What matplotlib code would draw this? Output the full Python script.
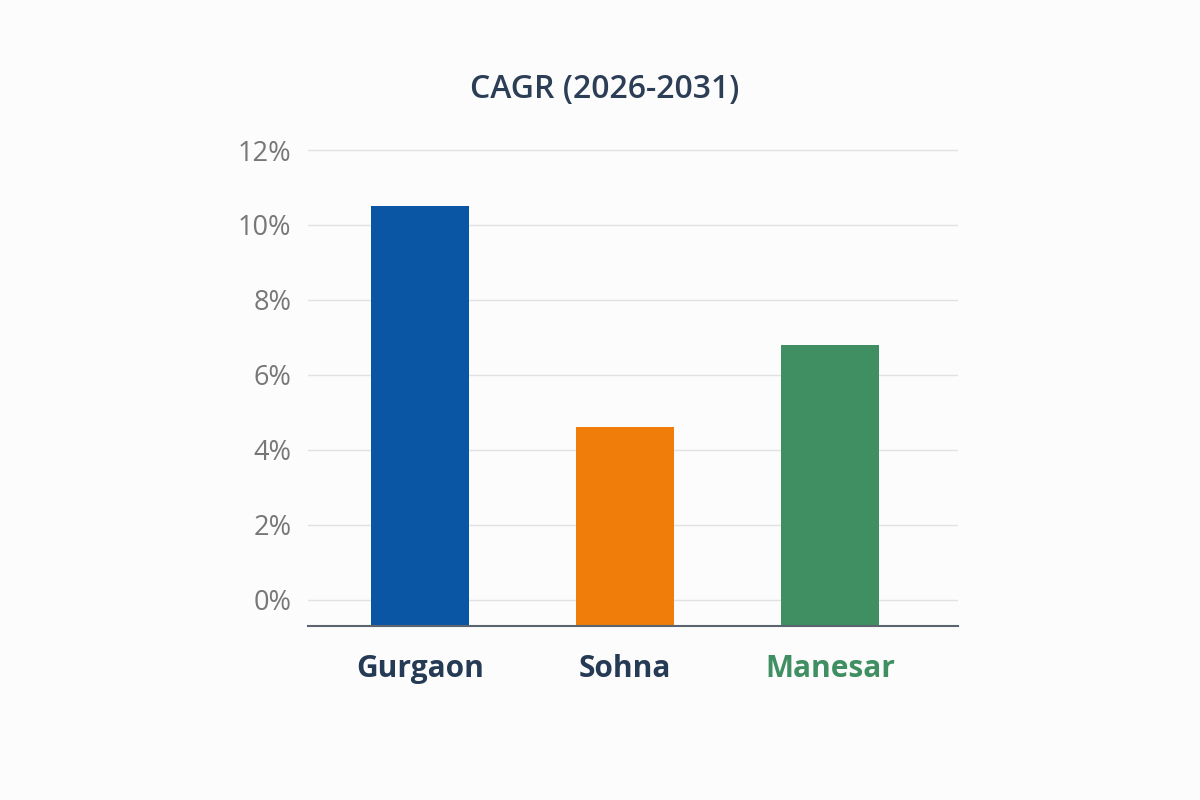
import matplotlib
matplotlib.use("Agg")
import matplotlib.pyplot as plt
import numpy as np

categories = ["Gurgaon", "Sohna", "Manesar"]
cagr = [10.5, 4.6, 6.8]
bar_colors = ["#0b56a4", "#f07c0a", "#3f8f62"]
label_colors = ["#253a55", "#253a55", "#3f8f62"]
yticks = [0, 2, 4, 6, 8, 10, 12]
ytick_labels = ["0%", "2%", "4%", "6%", "8%", "10%", "12%"]
title = "CAGR (2026-2031)"

plt.rcParams['font.family'] = ['Open Sans', 'DejaVu Sans']

bg = "#fcfcfc"
fig = plt.figure(figsize=(12, 8), dpi=100, facecolor=bg)
ax = fig.add_axes([0.2567, 0.2175, 0.5417, 0.609])
ax.set_facecolor(bg)

ymin, ymax = -0.7, 12.3
x = np.arange(len(categories))
ax.bar(x, np.array(cagr) - ymin, bottom=ymin, width=0.48, color=bar_colors, zorder=3)

ax.set_ylim(ymin, ymax)
ax.set_xlim(-0.546, 2.624)
ax.set_yticks(yticks)
ax.set_yticklabels(ytick_labels, fontsize=19.5, color="#777777")
ax.yaxis.grid(True, color="#e2e2e2", linewidth=1.0, zorder=0)
ax.tick_params(axis='y', length=0, pad=12)
ax.set_xticks(x)
ax.set_xticklabels(categories, fontsize=21.5, fontweight='bold')
for lbl, c in zip(ax.get_xticklabels(), label_colors):
    lbl.set_color(c)
ax.tick_params(axis='x', length=0, pad=20)

for s in ["top", "right", "left"]:
    ax.spines[s].set_visible(False)
ax.spines["bottom"].set_color("#5b6570")
ax.spines["bottom"].set_linewidth(1.5)
ax.spines["bottom"].set_zorder(4)

fig.text(0.504, 0.888, title, ha='center', va='center', fontsize=23,
         fontweight='semibold', color="#2c3e55")

fig.savefig("out.png", dpi=100, facecolor=bg)
